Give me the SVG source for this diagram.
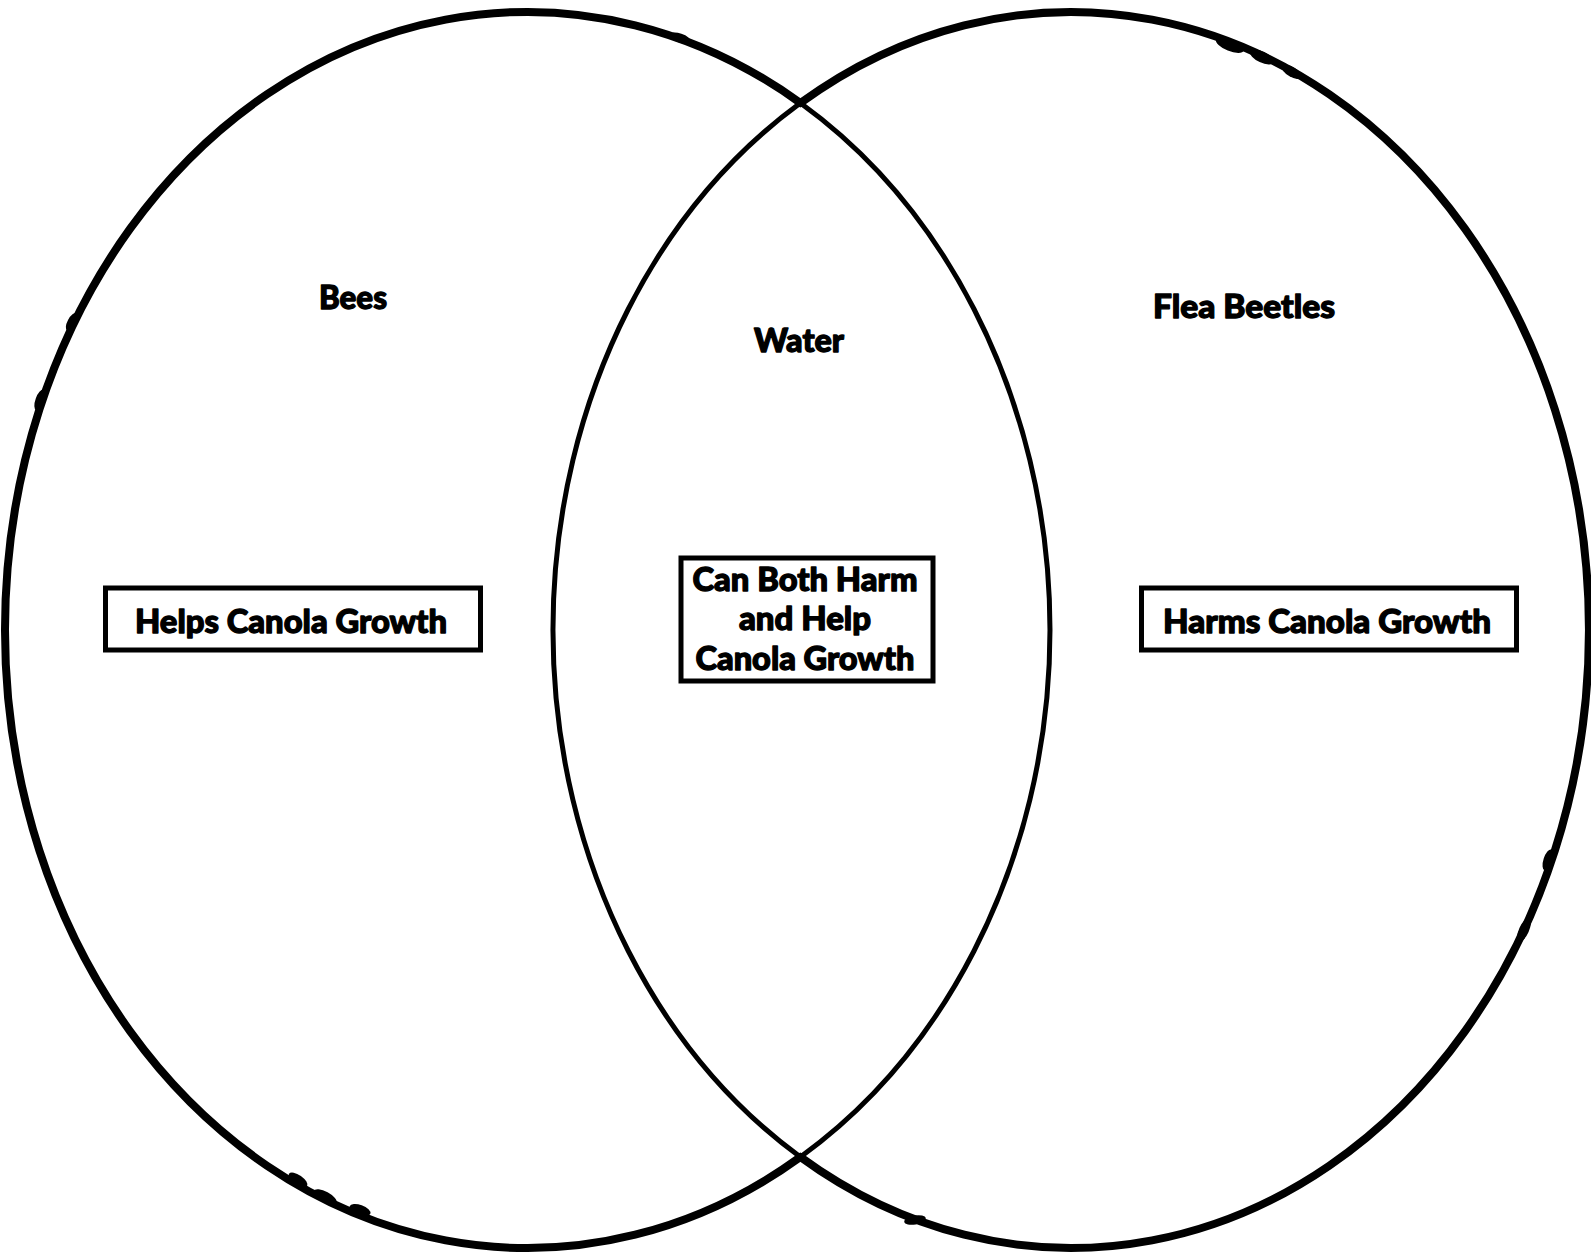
<svg xmlns="http://www.w3.org/2000/svg" width="1591" height="1255" viewBox="0 0 1591 1255">
  <style>
    .lbl { font-family: Lato, "Liberation Sans", Arial, sans-serif; font-weight: 900; font-size: 33px; fill: #000; stroke: #000; stroke-width: 1.3; stroke-linejoin: round; text-anchor: middle; }
    .box { fill: #fff; stroke: #000; stroke-width: 5; }
    .inner { fill: none; stroke: #000; stroke-width: 5; }
    .outer { fill: none; stroke: #000; stroke-width: 8; stroke-linecap: round; }
    .blob { fill: #000; }
  </style>
  <rect width="1591" height="1255" fill="#fff"/>

  <g id="connectors">
    <!-- inner arcs (inside the overlap) drawn thinner -->
    <path class="inner" d="M 800.4 103 A 522.5 618 0 0 1 800.4 1157"/>
    <path class="inner" d="M 800.4 103 A 518 618 0 0 0 800.4 1157"/>
  </g>

  <g id="set-bees">
    <path class="outer" d="M 800.4 103 A 522.5 618 0 1 0 800.4 1157"/>
    <!-- pen wobbles along the outline -->
    <ellipse class="blob" cx="72" cy="322" rx="4.5" ry="10" transform="rotate(28 72 322)"/>
    <ellipse class="blob" cx="40" cy="400" rx="4.5" ry="11" transform="rotate(20 40 400)"/>
    <ellipse class="blob" cx="298" cy="1180" rx="11" ry="5" transform="rotate(35 298 1180)"/>
    <ellipse class="blob" cx="325" cy="1197" rx="13" ry="5.5" transform="rotate(28 325 1197)"/>
    <ellipse class="blob" cx="360" cy="1210" rx="11" ry="5" transform="rotate(20 360 1210)"/>
    <ellipse class="blob" cx="680" cy="38" rx="11" ry="4.5" transform="rotate(18 680 38)"/>
  </g>

  <g id="set-flea-beetles">
    <path class="outer" d="M 800.4 103 A 518 618 0 1 1 800.4 1157"/>
    <ellipse class="blob" cx="1230" cy="45" rx="15" ry="6" transform="rotate(22 1230 45)"/>
    <ellipse class="blob" cx="1262" cy="57" rx="13" ry="5.5" transform="rotate(25 1262 57)"/>
    <ellipse class="blob" cx="1292" cy="72" rx="11" ry="5" transform="rotate(30 1292 72)"/>
    <ellipse class="blob" cx="1548" cy="860" rx="4.5" ry="11" transform="rotate(18 1548 860)"/>
    <ellipse class="blob" cx="1524" cy="930" rx="5" ry="13" transform="rotate(24 1524 930)"/>
    <ellipse class="blob" cx="915" cy="1220" rx="11" ry="4.5" transform="rotate(-10 915 1220)"/>
  </g>

  <g id="label-bees">
    <text class="lbl" x="353" y="309" textLength="68" lengthAdjust="spacingAndGlyphs">Bees</text>
  </g>
  <g id="label-water">
    <text class="lbl" x="799" y="352" textLength="90" lengthAdjust="spacingAndGlyphs">Water</text>
  </g>
  <g id="label-flea-beetles">
    <text class="lbl" x="1244" y="318" textLength="182" lengthAdjust="spacingAndGlyphs">Flea Beetles</text>
  </g>

  <g id="node-helps">
    <rect class="box" x="105.5" y="588" width="375" height="62"/>
    <text class="lbl" x="291" y="633" textLength="312" lengthAdjust="spacingAndGlyphs">Helps Canola Growth</text>
  </g>

  <g id="node-both">
    <rect class="box" x="681" y="558" width="252" height="123"/>
    <text class="lbl" x="805" y="591" textLength="225" lengthAdjust="spacingAndGlyphs">Can Both Harm</text>
    <text class="lbl" x="805" y="630" textLength="132" lengthAdjust="spacingAndGlyphs">and Help</text>
    <text class="lbl" x="805" y="670" textLength="219" lengthAdjust="spacingAndGlyphs">Canola Growth</text>
  </g>

  <g id="node-harms">
    <rect class="box" x="1141.5" y="588" width="375" height="62"/>
    <text class="lbl" x="1327" y="633" textLength="328" lengthAdjust="spacingAndGlyphs">Harms Canola Growth</text>
  </g>
</svg>
